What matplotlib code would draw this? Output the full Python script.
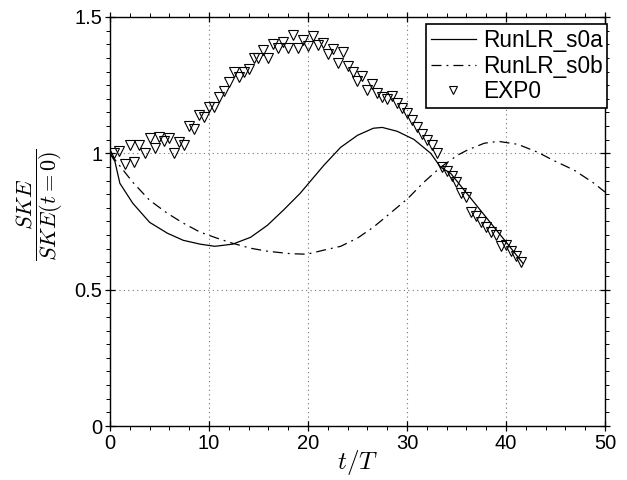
import numpy as np
import matplotlib
matplotlib.use('Agg')
import matplotlib.pyplot as plt
from matplotlib.ticker import MultipleLocator, FuncFormatter

plt.rcParams['font.family'] = ['Liberation Sans', 'DejaVu Sans']
plt.rcParams['mathtext.fontset'] = 'cm'

# RunLR_s0a (solid)
t_a = [0, 0.5, 1.0, 2.3, 4.0, 5.8, 7.4, 9.1, 10.6, 12.4, 14.2, 15.9, 17.5, 19.2,
       21.6, 23.3, 25.0, 26.6, 27.5, 29.0, 30.7, 32.4, 33.4, 34.4, 36.0, 38.0,
       40.0, 41.7]
ske_a = [1.0, 0.97, 0.89, 0.817, 0.747, 0.707, 0.681, 0.667, 0.659, 0.667, 0.692,
         0.736, 0.791, 0.853, 0.956, 1.022, 1.066, 1.092, 1.095, 1.081, 1.051, 1.0,
         0.949, 0.927, 0.855, 0.765, 0.675, 0.597]

# RunLR_s0b (dash-dot)
t_b = [0, 0.8, 2.3, 4.0, 5.8, 7.4, 9.1, 10.8, 12.4, 14.2, 15.9, 18.2, 19.9, 21.6,
       23.3, 25.0, 26.6, 28.3, 30.1, 31.7, 33.4, 35.1, 36.1, 37.8, 39.2, 41.2,
       43.2, 44.8, 46.9, 48.9, 50.0]
ske_b = [1.0, 0.963, 0.894, 0.828, 0.78, 0.744, 0.711, 0.689, 0.67, 0.652, 0.641,
         0.632, 0.63, 0.645, 0.659, 0.689, 0.729, 0.78, 0.835, 0.894, 0.949, 0.993,
         1.012, 1.037, 1.044, 1.033, 1.004, 0.974, 0.938, 0.89, 0.858]

# EXP0 (triangles)
t_exp = [0.4, 0.9, 1.5, 2.0, 2.4, 2.9, 3.5, 4.0, 4.5, 5.0, 5.5, 6.0, 6.5, 7.0, 7.5,
         8.0, 8.5, 9.0, 9.5, 10.0, 10.5, 11.0, 11.5, 12.0, 12.5, 13.0, 13.5, 14.0,
         14.5, 15.0, 15.5, 16.0, 16.5, 17.0, 17.5, 18.0, 18.5, 19.0, 19.5, 20.0,
         20.5, 21.0, 21.5, 22.0, 22.5, 23.0, 23.5, 24.0, 24.5, 25.0, 25.5, 26.0,
         26.5, 27.0, 27.5, 28.0, 28.5, 29.0, 29.5, 30.0, 30.5, 31.0, 31.5, 32.0,
         32.5, 33.0, 33.5, 34.0, 34.5, 35.0, 35.5, 36.0, 36.5, 37.0, 37.5, 38.0,
         38.5, 39.0, 39.5, 40.0, 40.5, 41.0, 41.5]
ske_exp = [1.00, 1.01, 0.96, 1.03, 0.97, 1.03, 1.00, 1.055, 1.02, 1.06, 1.045, 1.055,
           1.00, 1.04, 1.03, 1.10, 1.09, 1.14, 1.135, 1.17, 1.17, 1.205, 1.23, 1.26,
           1.30, 1.28, 1.30, 1.31, 1.35, 1.35, 1.38, 1.35, 1.40, 1.385, 1.41, 1.385,
           1.435, 1.385, 1.415, 1.395, 1.432, 1.396, 1.403, 1.363, 1.381, 1.333,
           1.370, 1.319, 1.297, 1.264, 1.282, 1.231, 1.253, 1.223, 1.205, 1.198,
           1.212, 1.183, 1.168, 1.147, 1.121, 1.095, 1.07, 1.048, 1.03, 1.0, 0.949,
           0.934, 0.916, 0.894, 0.853, 0.839, 0.784, 0.769, 0.747, 0.729, 0.711,
           0.70, 0.659, 0.663, 0.641, 0.623, 0.60]

fig = plt.figure(figsize=(6.27, 4.8), dpi=100)
ax = fig.add_axes([0.1754, 0.1125, 0.7895, 0.8521])

ax.plot(t_a, ske_a, color='black', lw=0.9, ls='-', label='RunLR_s0a')
ax.plot(t_b, ske_b, color='black', lw=0.9, ls=(0, (8, 4, 1.5, 4)), label='RunLR_s0b')
ax.plot(t_exp, ske_exp, ls='none', marker='v', markersize=7.5, markerfacecolor='none',
        markeredgecolor='black', markeredgewidth=0.8, label='EXP0')

ax.set_xlim(0, 50)
ax.set_ylim(0, 1.5)
ax.xaxis.set_major_locator(MultipleLocator(10))
ax.xaxis.set_minor_locator(MultipleLocator(2))
ax.yaxis.set_major_locator(MultipleLocator(0.5))
ax.yaxis.set_minor_locator(MultipleLocator(0.05))
ax.yaxis.set_major_formatter(FuncFormatter(lambda v, p: '%g' % v))
ax.tick_params(which='both', top=True, right=True, labelsize=14.5)
ax.tick_params(which='major', direction='inout', length=7, width=0.9, pad=2)
ax.tick_params(which='minor', direction='out', length=3, width=0.7)
for s in ax.spines.values():
    s.set_linewidth(1.0)

ax.grid(True, which='major', color='0.45', ls=(0, (1, 3)), lw=0.8)

ax.set_xlabel(r'$t/T$', fontsize=18, labelpad=-3)
ax.set_ylabel(r'$\dfrac{SKE}{SKE(t=0)}$', fontsize=16)
ax.yaxis.set_label_coords(-0.09, 0.54)

leg = ax.legend(loc='upper right', bbox_to_anchor=(1.004, 0.982), borderaxespad=0,
                fontsize=16.3, fancybox=False, framealpha=1, edgecolor='black',
                handlelength=2.0, borderpad=0.2, handletextpad=0.3,
                labelspacing=0.12, markerscale=0.7)
leg.get_frame().set_linewidth(1.2)

plt.savefig('out.png', dpi=100)
